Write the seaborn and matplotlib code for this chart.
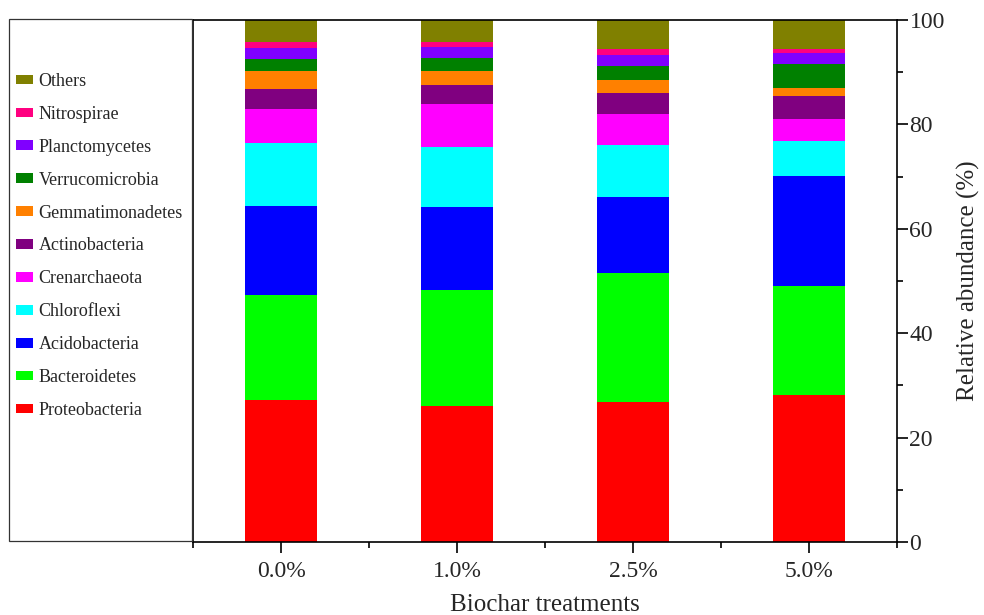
import numpy as np
import pandas as pd
import matplotlib
matplotlib.use("Agg")
import matplotlib.pyplot as plt
from matplotlib.patches import Patch, Rectangle
from matplotlib.ticker import MultipleLocator
import seaborn as sns

# Relative abundance (%) of dominant phyla under each biochar treatment
treatments = ["0.0%", "1.0%", "2.5%", "5.0%"]

phyla = ["Proteobacteria", "Bacteroidetes", "Acidobacteria", "Chloroflexi",
         "Crenarchaeota", "Actinobacteria", "Gemmatimonadetes",
         "Verrucomicrobia", "Planctomycetes", "Nitrospirae", "Others"]

proteobacteria   = [27.2, 26.1, 26.9, 28.2]
bacteroidetes    = [20.1, 22.1, 24.6, 20.9]
acidobacteria    = [17.1, 15.9, 14.5, 21.1]
chloroflexi      = [12.1, 11.5, 10.1, 6.6]
crenarchaeota    = [6.5, 8.3, 5.8, 4.2]
actinobacteria   = [3.8, 3.6, 4.2, 4.5]
gemmatimonadetes = [3.4, 2.8, 2.4, 1.5]
verrucomicrobia  = [2.4, 2.5, 2.6, 4.6]
planctomycetes   = [2.1, 2.1, 2.1, 2.0]
nitrospirae      = [1.1, 0.9, 1.2, 0.8]
others           = [4.2, 4.2, 5.6, 5.6]

colors = ["#FF0000", "#00FF00", "#0000FF", "#00FFFF", "#FF00FF", "#800080",
          "#FF8000", "#008000", "#8000FF", "#FF0080", "#808000"]

table = pd.DataFrame(
    [proteobacteria, bacteroidetes, acidobacteria, chloroflexi, crenarchaeota,
     actinobacteria, gemmatimonadetes, verrucomicrobia, planctomycetes,
     nitrospirae, others],
    index=phyla, columns=treatments)
tops = table.cumsum(axis=0)

sns.set_theme(style="white")
plt.rcParams["font.family"] = ["Liberation Serif", "DejaVu Serif"]
plt.rcParams["axes.edgecolor"] = "black"

fig = plt.figure(figsize=(9.84, 6.15), dpi=100)
ax = fig.add_axes([193 / 984, 73 / 615, 704 / 984, 522 / 615])

# stacked bars: draw cumulative tops from the uppermost layer downwards
for name, col in zip(reversed(phyla), reversed(colors)):
    sns.barplot(x=treatments, y=tops.loc[name].values, color=col,
                saturation=1, width=0.41, linewidth=0, ax=ax)

ax.set_xlim(-0.5, 3.5)
ax.set_ylim(0, 100)

for s in ax.spines.values():
    s.set_visible(True)
    s.set_color("black")
    s.set_linewidth(1.2)

ax.yaxis.tick_right()
ax.yaxis.set_label_position("right")
ax.yaxis.set_major_locator(MultipleLocator(20))
ax.yaxis.set_minor_locator(MultipleLocator(10))
ax.set_xticks([-0.5, 0.5, 1.5, 2.5, 3.5], minor=True)
ax.tick_params(axis="both", which="major", direction="out", length=8,
               width=1.2, color="black", labelsize=17)
ax.tick_params(axis="x", which="major", pad=6)
ax.tick_params(axis="y", which="major", pad=1)
ax.tick_params(axis="both", which="minor", direction="out", length=4,
               width=1.2, color="black")
ax.tick_params(axis="y", which="both", left=False, right=True)
ax.tick_params(axis="x", which="both", bottom=True, top=False)

ax.set_xlabel("Biochar treatments", fontsize=18, labelpad=8)
ax.set_ylabel("Relative abundance (%)", fontsize=18, labelpad=9)

# legend panel on the left
fig.add_artist(Rectangle((9 / 984, 1 - 541 / 615), 183 / 984, 522 / 615,
                         transform=fig.transFigure, fill=False,
                         edgecolor="#333333", linewidth=0.9))
handles = [Patch(facecolor=c, edgecolor="none") for c in reversed(colors)]
fig.legend(handles, list(reversed(phyla)), loc="upper left",
           bbox_to_anchor=(16 / 984, 1 - 73 / 615),
           bbox_transform=fig.transFigure, frameon=False, fontsize=13,
           handlelength=0.95, handleheight=0.45, handletextpad=0.3,
           labelspacing=0.88, borderpad=0, borderaxespad=0)

fig.savefig("out.png", dpi=100)
